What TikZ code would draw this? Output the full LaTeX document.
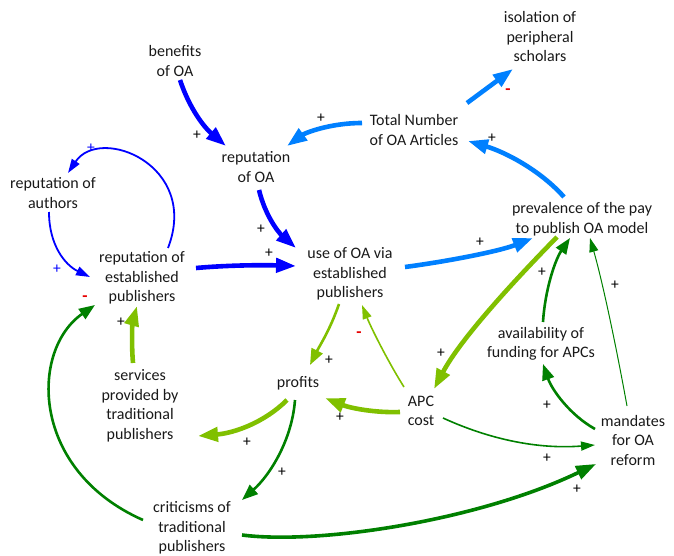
\documentclass[tikz,border=0pt]{standalone}
\usepackage{fontspec}
\setmainfont{Carlito}
\usetikzlibrary{arrows.meta,calc}
\definecolor{cblue}{RGB}{0,0,255}
\definecolor{lblue}{RGB}{0,128,255}
\definecolor{ygreen}{RGB}{128,192,0}
\definecolor{dgreen}{RGB}{0,128,0}
\definecolor{txt}{RGB}{25,25,25}
\definecolor{sred}{RGB}{230,0,0}
\begin{document}
\begin{tikzpicture}[x=1pt,y=-1pt,
  var/.style={align=center,font=\fontsize{16}{19.5}\selectfont,text=txt,inner sep=0pt},
  pol/.style={font=\fontsize{15.5}{15.5}\selectfont,inner sep=0pt,text=black},
  neg/.style={font=\fontsize{17}{17}\selectfont\bfseries,inner sep=0pt,text=sred},
  lkA/.style={line width=4.6pt,-{Triangle[length=20pt,width=14pt]}},
  lkB/.style={line width=2.6pt,-{Triangle[length=16pt,width=12pt]}},
  lkC/.style={line width=1.6pt,-{Triangle[length=15pt,width=11pt]}},
  lkD/.style={line width=1pt,-{Triangle[length=14pt,width=9pt]}}
]
\useasboundingbox (0,0) rectangle (674,556);

% variables
\node[var] (benefits) at (175,61) {benefits\\of OA};
\node[var] (repOA) at (256,167) {reputation\\of OA};
\node[var] (repAuth) at (53,193) {reputation of\\authors};
\node[var] (repEst) at (142,278) {reputation of\\established\\publishers};
\node[var] (useOA) at (350,274) {use of OA via\\established\\publishers};
\node[var] (total) at (414,130) {Total Number\\of OA Articles};
\node[var] (isol) at (540,37) {isolation of\\peripheral\\scholars};
\node[var] (prev) at (582,219) {prevalence of the pay\\to publish OA model};
\node[var] (avail) at (541,344) {availability of\\funding for APCs};
\node[var] (apc) at (421,411) {APC\\cost};
\node[var] (profits) at (298,383) {profits};
\node[var] (serv) at (140,406) {services\\provided by\\traditional\\publishers};
\node[var] (mand) at (633,440) {mandates\\for OA\\reform};
\node[var] (crit) at (192,528) {criticisms of\\traditional\\publishers};

% blue links
\draw[lkA,cblue] ($(benefits)+(5,19)$) .. controls (190,110) and (205,128) .. ($(repOA)+(-30,-21)$);
\draw[lkA,cblue] ($(repOA)+(3,23)$) .. controls (265,215) and (278,232) .. ($(useOA)+(-54,-26)$);
\draw[lkA,cblue] ($(repEst)+(54,-10)$) .. controls (230,265) and (265,265) .. ($(useOA)+(-54,-8)$);
\draw[lkD,cblue,line width=1.8pt] ($(repEst)+(26,-30)$) .. controls (200,165) and (100,125) .. ($(repAuth)+(15,-20)$);
\draw[lkD,cblue,line width=1.8pt] ($(repAuth)+(-4,19)$) .. controls (49,245) and (65,265) .. ($(repEst)+(-52,-1)$);

% light blue links
\draw[lkA,lblue] ($(total)+(-52,-7)$) .. controls (330,123) and (305,133) .. ($(repOA)+(31,-21)$);
\draw[lkA,lblue] ($(total)+(53,-27)$) -- ($(isol)+(-27,32)$);
\draw[lkA,lblue] ($(prev)+(-18,-22)$) .. controls (540,170) and (505,152) .. ($(total)+(54,11)$);
\draw[lkA,lblue] ($(useOA)+(55,-7)$) .. controls (450,261) and (500,251) .. ($(prev)+(-49,19)$);

% yellow-green links
\draw[lkA,ygreen] ($(prev)+(-25,18)$) .. controls (510,285) and (460,340) .. ($(apc)+(13,-22)$);
\draw[lkB,ygreen] ($(useOA)+(-11,30)$) .. controls (330,330) and (320,345) .. ($(profits)+(12,-18)$);
\draw[lkD,ygreen,line width=1.6pt] ($(apc)+(-17,-24)$) .. controls (390,365) and (372,330) .. ($(useOA)+(12,31)$);
\draw[lkA,ygreen] ($(apc)+(-21,1)$) .. controls (375,413) and (350,408) .. ($(profits)+(27,15)$);
\draw[lkA,ygreen] ($(profits)+(-11,17)$) .. controls (265,422) and (235,433) .. ($(serv)+(58,30)$);
\draw[lkA,ygreen] ($(serv)+(-7,-43)$) .. controls (131,340) and (133,320) .. ($(repEst)+(-5,28)$);

% dark green links
\draw[lkB,dgreen] ($(profits)+(-3,17)$) .. controls (292,440) and (270,475) .. ($(crit)+(50,-28)$);
\draw[lkB,dgreen] ($(crit)+(-49,-8)$) .. controls (30,470) and (30,350) .. ($(repEst)+(-47,27)$);
\draw[lkA,dgreen,line width=3.6pt] ($(crit)+(50,7)$) .. controls (320,545) and (480,520) .. ($(mand)+(-37,24)$);
\draw[lkD,dgreen,line width=1.6pt] ($(apc)+(22,7)$) .. controls (480,435) and (530,450) .. ($(mand)+(-38,5)$);
\draw[lkB,dgreen] ($(mand)+(-38,-11)$) .. controls (570,415) and (552,390) .. ($(avail)+(2,20)$);
\draw[lkB,dgreen] ($(avail)+(2,-22)$) .. controls (545,290) and (555,260) .. ($(prev)+(-12,19)$);
\draw[lkD,dgreen] ($(mand)+(-6,-34)$) .. controls (615,340) and (602,280) .. ($(prev)+(8,19)$);

% polarity signs
\node[pol] (p1) at (197,135) {+};
\node[pol] (p2) at (261,229) {+};
\node[pol] (p3) at (269,253) {+};
\node[pol,text=cblue] (p4) at (91,148) {+};
\node[pol,text=cblue] (p5) at (57,269) {+};
\node[pol] (p6) at (321,118) {+};
\node[neg] (n7) at (508,92) {-};
\node[pol] (p8) at (492,138) {+};
\node[pol] (p9) at (480,242) {+};
\node[pol] (p10) at (441,353) {+};
\node[pol] (p11) at (329,360) {+};
\node[neg] (n12) at (359,335) {-};
\node[pol] (p13) at (340,417) {+};
\node[pol] (p14) at (247,442) {+};
\node[pol] (p15) at (121,322) {+};
\node[pol] (p16) at (282,472) {+};
\node[neg] (n17) at (85,299) {-};
\node[pol] (p18) at (577,489) {+};
\node[pol] (p19) at (547,458) {+};
\node[pol] (p20) at (547,405) {+};
\node[pol] (p21) at (542,272) {+};
\node[pol] (p22) at (615,285) {+};
\end{tikzpicture}
\end{document}
